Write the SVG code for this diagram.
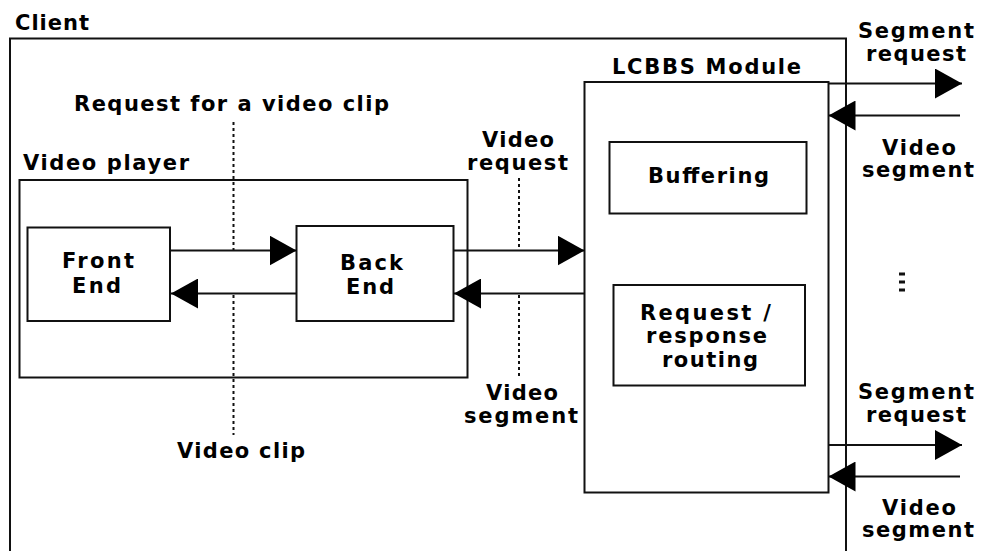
<svg xmlns="http://www.w3.org/2000/svg" width="987" height="551" viewBox="0 0 987 551">
  <defs>
    <style>
      .box { fill: none; stroke: #111; stroke-width: 2; }
      .lbl { font-family: "DejaVu Sans", Verdana, sans-serif; font-weight: bold; font-size: 21px; fill: #000; }
      .flow { fill: none; stroke: #111; stroke-width: 2; marker-end: url(#head); }
      .lead { fill: none; stroke: #111; stroke-width: 2; stroke-dasharray: 3 3; }
    </style>
    <marker id="head" viewBox="0 0 27 30" refX="27" refY="15" markerWidth="27" markerHeight="30" markerUnits="userSpaceOnUse" orient="auto">
      <path d="M0,0 L27,15 L0,30 Z" fill="#000"/>
    </marker>
  </defs>
  <rect width="987" height="551" fill="#fff"/>

  <!-- Client: open at the bottom -->
  <g id="client">
    <path class="box" d="M10,551 V38.5 H846 V551"/>
    <text class="lbl" x="15" y="30" textLength="74" lengthAdjust="spacing">Client</text>
  </g>

  <g id="video-player">
    <rect class="box" x="19.5" y="180" width="448" height="197.5"/>
    <text class="lbl" x="23" y="170" textLength="166" lengthAdjust="spacing">Video player</text>
  </g>

  <g id="front-end">
    <rect class="box" x="27.5" y="227.5" width="142.5" height="93.5"/>
    <text class="lbl" x="62" y="268" textLength="72" lengthAdjust="spacing">Front</text>
    <text class="lbl" x="72" y="293" textLength="49" lengthAdjust="spacing">End</text>
  </g>

  <g id="back-end">
    <rect class="box" x="296.5" y="226" width="157" height="95"/>
    <text class="lbl" x="340" y="270" textLength="63" lengthAdjust="spacing">Back</text>
    <text class="lbl" x="346" y="294" textLength="48" lengthAdjust="spacing">End</text>
  </g>

  <g id="lcbbs-module">
    <rect class="box" x="584.5" y="82" width="244" height="410.5"/>
    <text class="lbl" x="612" y="74" textLength="189" lengthAdjust="spacing">LCBBS Module</text>
  </g>

  <g id="buffering">
    <rect class="box" x="609.5" y="142" width="197" height="71.5"/>
    <text class="lbl" x="648" y="183" textLength="121" lengthAdjust="spacing">Buffering</text>
  </g>

  <g id="routing">
    <rect class="box" x="613.5" y="285" width="191.5" height="100.5"/>
    <text class="lbl" x="640" y="320" textLength="131" lengthAdjust="spacing">Request /</text>
    <text class="lbl" x="646" y="343" textLength="121" lengthAdjust="spacing">response</text>
    <text class="lbl" x="662" y="367" textLength="96" lengthAdjust="spacing">routing</text>
  </g>

  <g id="connectors">
    <line class="flow" x1="170" y1="250.5" x2="296.5" y2="250.5"/>
    <line class="flow" x1="296.5" y1="293.5" x2="171" y2="293.5"/>
    <line class="flow" x1="453.5" y1="250.5" x2="584.5" y2="250.5"/>
    <line class="flow" x1="584.5" y1="293.5" x2="454" y2="293.5"/>
    <line class="flow" x1="828.5" y1="83.5" x2="962" y2="83.5"/>
    <line class="flow" x1="960" y1="115.5" x2="828.5" y2="115.5"/>
    <line class="flow" x1="828.5" y1="445" x2="962" y2="445"/>
    <line class="flow" x1="960" y1="476.5" x2="828.5" y2="476.5"/>

    <line class="lead" x1="233.5" y1="122" x2="233.5" y2="250"/>
    <line class="lead" x1="233.5" y1="295" x2="233.5" y2="435"/>
    <line class="lead" x1="519" y1="178" x2="519" y2="250"/>
    <line class="lead" x1="519" y1="295" x2="519" y2="378"/>
  </g>

  <g id="labels">
    <text class="lbl" x="74" y="111" textLength="315" lengthAdjust="spacing">Request for a video clip</text>
    <text class="lbl" x="177" y="458" textLength="128" lengthAdjust="spacing">Video clip</text>

    <text class="lbl" x="482" y="147" textLength="72" lengthAdjust="spacing">Video</text>
    <text class="lbl" x="467" y="170" textLength="101" lengthAdjust="spacing">request</text>
    <text class="lbl" x="486" y="400" textLength="72" lengthAdjust="spacing">Video</text>
    <text class="lbl" x="464" y="423" textLength="114" lengthAdjust="spacing">segment</text>

    <text class="lbl" x="858" y="38" textLength="116" lengthAdjust="spacing">Segment</text>
    <text class="lbl" x="866" y="61" textLength="100" lengthAdjust="spacing">request</text>
    <text class="lbl" x="882" y="155" textLength="74" lengthAdjust="spacing">Video</text>
    <text class="lbl" x="862" y="177" textLength="112" lengthAdjust="spacing">segment</text>

    <text class="lbl" x="858" y="399" textLength="116" lengthAdjust="spacing">Segment</text>
    <text class="lbl" x="866" y="422" textLength="100" lengthAdjust="spacing">request</text>
    <text class="lbl" x="882" y="515" textLength="74" lengthAdjust="spacing">Video</text>
    <text class="lbl" x="862" y="537" textLength="112" lengthAdjust="spacing">segment</text>

    <!-- vertical ellipsis between the two link pairs -->
    <g fill="#111">
      <rect x="899" y="272.5" width="6" height="3"/>
      <rect x="899" y="280.5" width="6" height="3"/>
      <rect x="899" y="288.5" width="6" height="3"/>
    </g>
  </g>
</svg>
